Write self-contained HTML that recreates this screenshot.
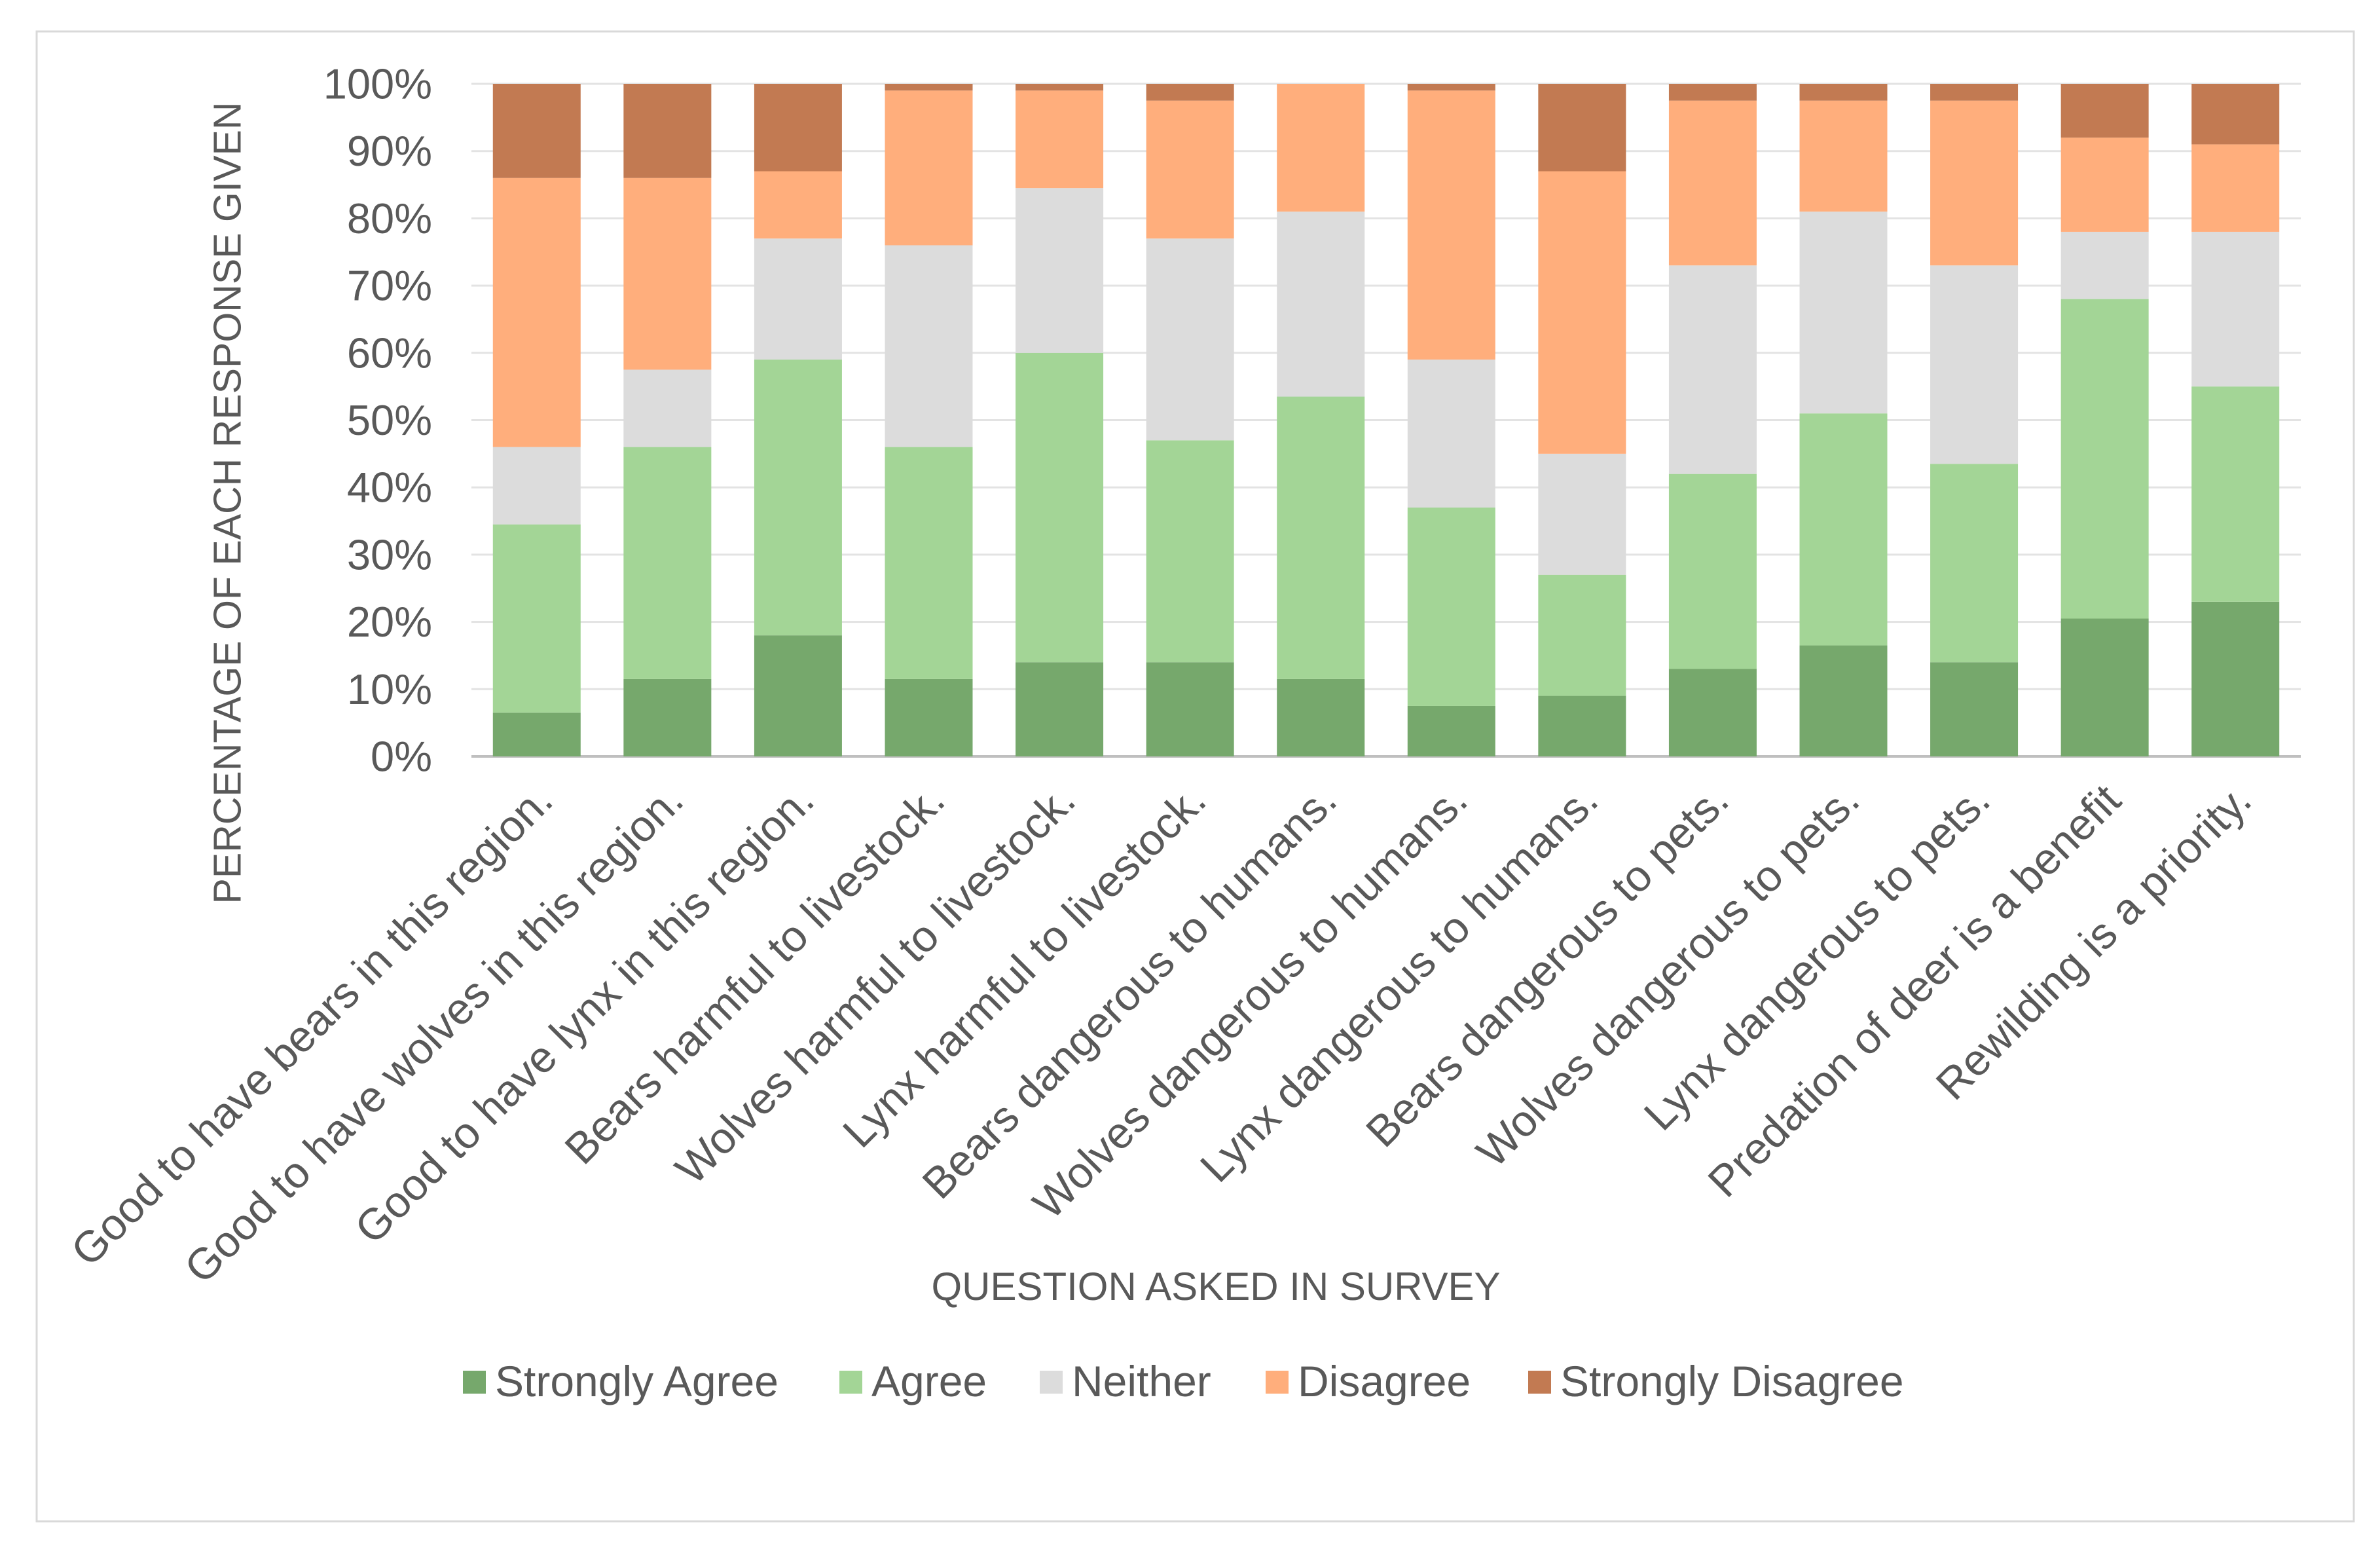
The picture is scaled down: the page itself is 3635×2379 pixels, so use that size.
<!DOCTYPE html>
<html><head><meta charset="utf-8"><style>
html,body{margin:0;padding:0;background:#fff;}
svg{display:block;font-family:"Liberation Sans",Arial,sans-serif;}
</style></head><body>
<svg id="chart" width="3635" height="2379" viewBox="0 0 3635 2379" xmlns="http://www.w3.org/2000/svg">
<rect x="56" y="48" width="3539" height="2275" fill="#fff" stroke="#d9d9d9" stroke-width="3"/>
<g id="grid"></g><g id="bars"></g><g id="yticks"></g><g id="xlabels"></g>
<text x="352" y="768" transform="rotate(-90 352 768)" text-anchor="middle" dominant-baseline="middle" font-size="59" fill="#595959">PERCENTAGE OF EACH RESPONSE GIVEN</text>
<text x="1857" y="1985" text-anchor="middle" font-size="60" fill="#595959">QUESTION ASKED IN SURVEY</text>
<g id="legend"></g>
</svg>
<script>
const categories=["Good to have bears in this region.","Good to have wolves in this region.","Good to have lynx in this region.","Bears harmful to livestock.","Wolves harmful to livestock.","Lynx harmful to livestock.","Bears dangerous to humans.","Wolves dangerous to humans.","Lynx dangerous to humans.","Bears dangerous to pets.","Wolves dangerous to pets.","Lynx dangerous to pets.","Predation of deer is a benefit","Rewilding is a priority."];
const seriesNames=["Strongly Agree","Agree","Neither","Disagree","Strongly Disagree"];
const stronglyAgree=[6.5,11.5,18,11.5,14,14,11.5,7.5,9,13,16.5,14,20.5,23];
const agree=[28,34.5,41,34.5,46,33,42,29.5,18,29,34.5,29.5,47.5,32];
const neither=[11.5,11.5,18,30,24.5,30,27.5,22,18,31,30,29.5,10,23];
const disagree=[40,28.5,10,23,14.5,20.5,19,40,42,24.5,16.5,24.5,14,13];
const stronglyDisagree=[14,14,13,1,1,2.5,0,1,13,2.5,2.5,2.5,8,9];
const yTicks=[0,10,20,30,40,50,60,70,80,90,100];
const colors=["#76a86c","#a3d596","#dcdcdc","#ffae7c","#c27a52"];
const NS="http://www.w3.org/2000/svg";
const X0=720,X1=3514,Y0=1155,Y1=128,BW=134;
const step=(X1-X0)/categories.length;
const yS=v=>Y0-(v/100)*(Y0-Y1);
const xC=i=>X0+step*(i+0.5);
function mk(t,a,p){const e=document.createElementNS(NS,t);for(const k in a)e.setAttribute(k,a[k]);p.appendChild(e);return e;}
const grid=document.getElementById('grid'),yt=document.getElementById('yticks');
yTicks.forEach(v=>{
 const l=mk('line',{x1:X0,x2:X1,y1:yS(v),y2:yS(v),stroke:v===0?'#bfbfbf':'#e3e3e3','stroke-width':v===0?4:3},grid);
 
 
 const t=mk('text',{x:660,y:yS(v),'text-anchor':'end','dominant-baseline':'central','font-size':65,fill:'#595959'},yt);
 t.textContent=v+'%';
 
 
});
const series=[stronglyAgree,agree,neither,disagree,stronglyDisagree];
const bars=document.getElementById('bars');
categories.forEach((c,i)=>{
 let cum=0;
 series.forEach((s,j)=>{
  const v=s[i];
  if(v>0){
   const r=mk('rect',{x:xC(i)-BW/2,y:yS(cum+v),width:BW,height:yS(cum)-yS(cum+v),fill:colors[j]},bars);
   
   
  }
  cum+=v;
 });
 const t=mk('text',{transform:`translate(${xC(i)-6},${1192}) rotate(-45)`,'text-anchor':'end',dy:'0.72em','font-size':67,fill:'#595959'},document.getElementById('xlabels'));
 t.textContent=c;
 
 
});
const lg=document.getElementById('legend');
const lx=[707,1282,1588,1933,2334];
seriesNames.forEach((n,j)=>{
 const r=mk('rect',{x:lx[j],y:2093,width:35,height:35,fill:colors[j]},lg);
 
 
 const t=mk('text',{x:lx[j]+49,y:2132,'font-size':66,fill:'#595959'},lg);
 t.textContent=n;
 
 
});
</script>
</body></html>
